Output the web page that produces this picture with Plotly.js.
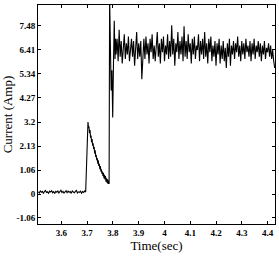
<!DOCTYPE html>
<html>
<head>
<meta charset="utf-8">
<script src="https://cdn.plot.ly/plotly-3.0.1.min.js"></script>
<style>html,body{margin:0;padding:0;background:#fff;}#chart{width:279px;height:256px;}</style>
</head>
<body>
<div id="chart"></div>
<script>
// Baseline before switch-on
var baseTime = [3.510,3.514,3.518,3.522,3.526,3.530,3.534,3.538,3.542,3.546,3.550,3.554,3.558,3.562,3.566,3.570,3.574,3.578,3.582,3.586,3.590,3.594,3.598,3.602,3.606,3.610,3.614,3.618,3.622,3.626,3.630,3.634,3.638,3.642,3.646,3.650,3.654,3.658,3.662,3.666,3.670,3.674,3.678,3.682,3.686,3.690,3.694];
var baseCurrent = [0.10,0.05,0.14,0.08,0.12,0.03,0.11,0.16,0.07,0.10,0.04,0.13,0.09,0.15,0.06,0.11,0.02,0.12,0.08,0.14,0.05,0.10,0.17,0.07,0.12,0.04,0.09,0.15,0.06,0.13,0.08,0.11,0.03,0.14,0.09,0.06,0.12,0.16,0.05,0.10,0.08,0.13,0.04,0.11,0.07,0.14,0.09];
// First transient and decay
var decayTime = [3.697,3.699,3.701,3.703,3.705,3.707,3.709,3.711,3.713,3.715,3.717,3.719,3.721,3.723,3.725,3.727,3.729,3.731,3.733,3.735,3.737,3.739,3.741,3.743,3.745,3.747,3.749,3.751,3.753,3.755,3.757,3.759,3.761,3.763,3.765,3.767,3.769,3.771,3.773,3.775,3.777,3.779,3.781,3.783,3.785];
var decayCurrent = [1.5,2.6,3.05,3.2,2.95,3.0,2.7,2.85,2.5,2.6,2.3,2.45,2.15,2.25,2.0,2.1,1.8,1.95,1.65,1.75,1.5,1.6,1.35,1.5,1.25,1.35,1.1,1.25,1.0,1.1,0.9,1.0,0.8,0.95,0.7,0.85,0.65,0.8,0.55,0.7,0.5,0.65,0.45,0.6,0.45];
// Second jump
var jumpTime = [3.787,3.790,3.793,3.796,3.799,3.802,3.805,3.808,3.810];
var jumpCurrent = [8.8,6.6,4.6,5.5,3.4,5.8,7.7,6.0,6.9];
// Steady noisy region
var steadyTime = [3.812,3.816,3.820,3.824,3.828,3.832,3.836,3.840,3.844,3.848,
3.852,3.856,3.860,3.864,3.868,3.872,3.876,3.880,3.884,3.888,
3.892,3.896,3.900,3.904,3.908,3.912,3.916,3.920,3.924,3.928,
3.932,3.936,3.940,3.944,3.948,3.952,3.956,3.960,3.964,3.968,
3.972,3.976,3.980,3.984,3.988,3.992,3.996,4.000,4.004,4.008,
4.012,4.016,4.020,4.024,4.028,4.032,4.036,4.040,4.044,4.048,
4.052,4.056,4.060,4.064,4.068,4.072,4.076,4.080,4.084,4.088,
4.092,4.096,4.100,4.104,4.108,4.112,4.116,4.120,4.124,4.128,
4.132,4.136,4.140,4.144,4.148,4.152,4.156,4.160,4.164,4.168,
4.172,4.176,4.180,4.184,4.188,4.192,4.196,4.200,4.204,4.208,
4.212,4.216,4.220,4.224,4.228,4.232,4.236,4.240,4.244,4.248,
4.252,4.256,4.260,4.264,4.268,4.272,4.276,4.280,4.284,4.288,
4.292,4.296,4.300,4.304,4.308,4.312,4.316,4.320,4.324,4.328,
4.332,4.336,4.340,4.344,4.348,4.352,4.356,4.360,4.364,4.368,
4.372,4.376,4.380,4.384,4.388,4.392,4.396,4.400,4.404,4.408,
4.412,4.416,4.420,4.424,4.428];
var steadyCurrent = [6.2,6.9,5.9,7.3,6.1,6.8,5.8,6.6,7.1,6.0,
6.7,6.2,7.0,5.9,6.5,6.9,6.1,6.8,5.7,6.6,
7.2,6.0,6.7,6.1,6.8,5.1,6.5,6.9,6.0,7.0,
6.2,6.7,5.8,6.9,6.3,7.1,6.0,6.6,5.9,6.8,
7.2,6.1,6.7,5.8,6.9,6.3,7.0,5.9,6.6,6.2,
7.1,6.0,6.8,6.1,7.5,6.2,6.9,5.7,6.7,6.3,
7.2,6.0,6.8,6.2,7.0,5.9,7.45,6.1,6.8,6.0,
7.1,6.3,6.7,5.8,6.9,6.2,7.0,6.0,6.6,6.4,
7.1,5.9,6.8,6.2,6.9,6.0,7.2,6.1,6.7,5.8,
6.9,6.3,7.0,5.9,6.6,6.1,6.8,5.7,6.7,6.2,
6.9,5.8,6.6,6.0,6.8,5.9,6.5,5.6,6.7,6.1,
6.9,5.7,6.6,6.2,6.8,6.0,6.7,6.3,7.0,6.1,
6.6,5.9,6.8,6.2,6.7,6.0,6.9,6.3,6.6,6.1,
6.8,5.9,6.7,6.2,6.9,6.0,6.6,6.3,6.8,6.1,
6.7,5.9,6.6,6.2,6.8,6.0,6.5,6.3,6.7,6.1,
6.6,6.0,6.4,5.9,5.6];

var xTicks = [3.6,3.7,3.8,3.9,4.0,4.1,4.2,4.3,4.4];
var xTickText = ["3.6","3.7","3.8","3.9","4","4.1","4.2","4.3","4.4"];
var yTicks = [-1.06,0,1.06,2.13,3.2,4.27,5.34,6.41,7.48];
var yTickText = ["-1.06","0","1.06","2.13","3.2","4.27","5.34","6.41","7.48"];

var time = baseTime.concat(decayTime, jumpTime, steadyTime);
var current = baseCurrent.concat(decayCurrent, jumpCurrent, steadyCurrent);

var tickFont = {family: "Liberation Serif", size: 9, color: "#000", weight: "bold"};
var titleFont = {family: "Liberation Serif", size: 13, color: "#000"};

Plotly.newPlot("chart", [{
  x: time, y: current, type: "scatter", mode: "lines",
  line: {color: "#000", width: 1.1}, hoverinfo: "skip"
}], {
  width: 279, height: 256,
  margin: {l: 38, r: 4, t: 5, b: 32, pad: 0},
  paper_bgcolor: "#fff", plot_bgcolor: "#fff",
  showlegend: false,
  xaxis: {
    range: [3.509, 4.429], tickmode: "array", tickvals: xTicks, ticktext: xTickText,
    ticks: "inside", ticklen: 3, tickcolor: "#000", showline: true, linecolor: "#000", linewidth: 1,
    mirror: "ticks", showgrid: false, zeroline: false, tickfont: tickFont,
    title: {text: "Time(sec)", font: titleFont, standoff: 4}
  },
  yaxis: {
    range: [-1.33, 8.4], tickmode: "array", tickvals: yTicks, ticktext: yTickText,
    ticks: "inside", ticklen: 3, tickcolor: "#000", showline: true, linecolor: "#000", linewidth: 1,
    mirror: "ticks", showgrid: false, zeroline: false, tickfont: tickFont,
    title: {text: "Current (Amp)", font: titleFont, standoff: 2}
  }
}, {staticPlot: true, displayModeBar: false});
</script>
</body>
</html>
